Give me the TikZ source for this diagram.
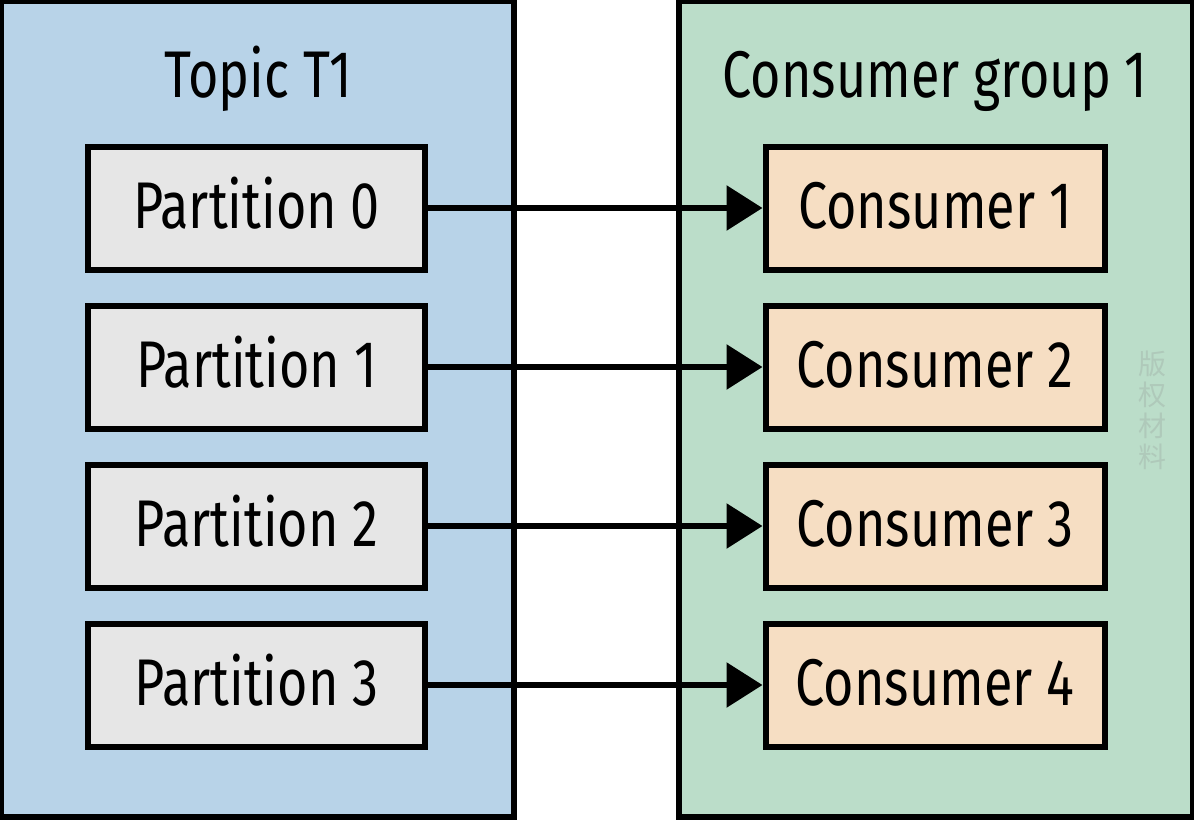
\documentclass[tikz,border=0pt]{standalone}
\usepackage{fontspec}
\setmainfont{Fira Sans}[FakeStretch=0.79]
\newfontfamily\cjk{Noto Sans CJK SC}
\usetikzlibrary{arrows.meta}
\definecolor{topicblue}{HTML}{B8D3E8}
\definecolor{groupgreen}{HTML}{BBDDC9}
\definecolor{partgray}{HTML}{E6E6E6}
\definecolor{conspeach}{HTML}{F6DEC3}
\definecolor{wmark}{HTML}{AFC9BA}
\tikzset{
  boxtext/.style={font=\fontsize{66}{68}\selectfont, text height=40pt, text depth=0pt},
  groupbox/.style={draw=black, line width=6pt},
  partbox/.style={boxtext, draw=black, line width=6pt, fill=partgray, minimum width=337pt, minimum height=123pt, inner sep=0pt},
  consbox/.style={boxtext, draw=black, line width=6pt, fill=conspeach, minimum width=339pt, minimum height=123pt, inner sep=0pt},
  titletext/.style={font=\fontsize{66}{68}\selectfont, inner sep=0pt, anchor=base},
  flow/.style={line width=6pt, -{Triangle[length=36pt,width=44pt]}},
}
\begin{document}
\begin{tikzpicture}[x=1pt,y=-1pt]
\useasboundingbox (0,0) rectangle (1194,820);
\fill[white] (0,0) rectangle (1194,820);
\draw[groupbox, fill=topicblue] (1,1) rectangle (514,817);
\draw[groupbox, fill=groupgreen] (679,1) rectangle (1193,817);
\node[titletext] (topic) at (258,97) {Topic T1};
\node[titletext] (group) at (935,97) {Consumer group 1};
\foreach \i/\y in {0/208,1/367,2/526,3/685}{
  \node[partbox] (p\i) at (256.5,\y) {Partition \i};
}
\foreach \i/\y in {1/208,2/367,3/526,4/685}{
  \node[consbox] (c\i) at (935,\y) {Consumer \i};
}
\draw[flow] (p0.east) -- (c1.west);
\draw[flow] (p1.east) -- (c2.west);
\draw[flow] (p2.east) -- (c3.west);
\draw[flow] (p3.east) -- (c4.west);
\node[text=wmark, font=\cjk\fontsize{28}{31}\selectfont, align=center, inner sep=0pt] (wm) at (1152,410) {版\\权\\材\\料};
\end{tikzpicture}
\end{document}
